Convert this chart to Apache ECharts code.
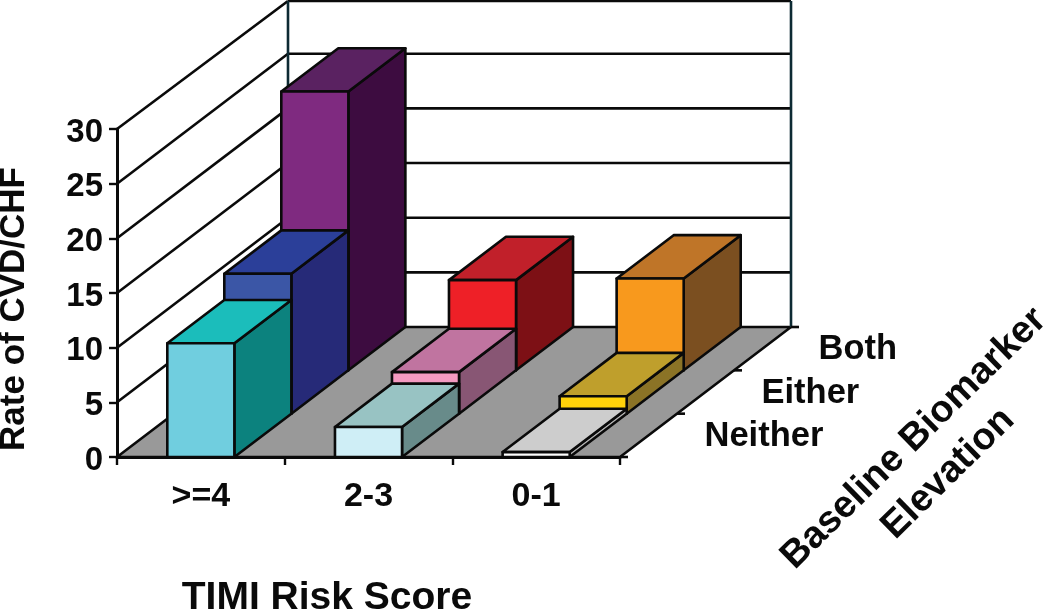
<!DOCTYPE html>
<html>
<head>
<meta charset="utf-8">
<style>html,body{margin:0;padding:0;background:#fff}#c{width:1050px;height:611px}</style>
<script src="https://cdn.jsdelivr.net/npm/echarts@6/dist/echarts.min.js"></script>
</head>
<body>
<div id="c"></div>
<script>
var riskCategories = ['>=4', '2-3', '0-1'];
var depthLabels = ['Neither', 'Either', 'Both'];
var yTicks = [0, 5, 10, 15, 20, 25, 30];
var neitherValues = [10.4, 2.75, 0.45];
var eitherValues = [12.8, 3.8, 1.6];
var bothValues = [25.5, 8.25, 8.4];

var neitherColors = [['#70cedf', '#1bbdbb', '#0c827e'], ['#cfeef6', '#98c3c3', '#688b8a'], ['#ffffff', '#cdcdcd', '#b4b4b4']];
var eitherColors = [['#3b56a6', '#2b3f99', '#262a78'], ['#f49ac1', '#c074a0', '#885674'], ['#ffd20a', '#bf9f2c', '#8b7326']];
var bothColors = [['#7f2a80', '#5a2261', '#3d0c40'], ['#ee2027', '#c1202a', '#7d1015'], ['#f8991d', '#bf7528', '#7b4f20']];

var DX = 57, DY = -43.33, BAR_RATIO = 0.4, INK = '#0a0a0a', LW = 2.6;
var FONT = '"Liberation Sans", Arial, sans-serif';

var rows = [neitherValues, eitherValues, bothValues];
var palette = [neitherColors, eitherColors, bothColors];
var barData = [];
for (var r = rows.length - 1; r >= 0; r--) {
  for (var c = 0; c < riskCategories.length; c++) {
    barData.push([c, rows[r][c], r]);
  }
}

function poly(points, fill) {
  return { type: 'polygon', shape: { points: points },
    style: { fill: fill, stroke: INK, lineWidth: LW, lineJoin: 'round' } };
}
function seg(a, b, color) {
  return { type: 'line', shape: { x1: a[0], y1: a[1], x2: b[0], y2: b[1] },
    style: { stroke: color || INK, lineWidth: LW, lineCap: 'butt' } };
}

function renderBar(params, api) {
  var c = api.value(0), v = api.value(1), r = api.value(2);
  var colors = palette[r][c];
  var base = api.coord([c, 0]);
  var top = api.coord([c, v]);
  var w = api.size([1, 0])[0] * BAR_RATIO;
  var l = base[0] - w / 2 + r * DX, rt = l + w;
  var b = base[1] + r * DY, t = top[1] + r * DY;
  return { type: 'group', children: [
    poly([[rt, b], [rt + DX, b + DY], [rt + DX, t + DY], [rt, t]], colors[2]),
    poly([[l, t], [rt, t], [rt + DX, t + DY], [l + DX, t + DY]], colors[1]),
    poly([[l, b], [rt, b], [rt, t], [l, t]], colors[0])
  ] };
}

function renderFrame(params, api) {
  var v = api.value(0);
  var left = api.coord([0, v]);
  var size = api.size([1, 0])[0];
  var x0 = left[0] - size / 2;
  var x1 = x0 + size * riskCategories.length;
  var y = left[1];
  var by = Math.max(1, y + 3 * DY);
  var back = x0 + 3 * DX, right = x1 + 3 * DX;
  var kids = [];
  if (v === 0) {
    kids.push(poly([[x0, y], [x1, y], [right, y + 3 * DY], [back, y + 3 * DY]], '#999999'));
    kids.push(seg([x1, y], [x1 + 8, y]));
  } else {
    kids.push(seg([x0, y], [back, by]));
    kids.push(seg([back, by], [right, by]));
  }
  if (v === 30) {
    var floorY = api.coord([0, 0])[1] + 3 * DY;
    kids.push(seg([back, by], [back, floorY], '#0d2a33'));
    kids.push(seg([right, by], [right, floorY], '#0d2a33'));
  }
  return { type: 'group', children: kids };
}

function renderDepth(params, api) {
  var i = api.value(0);
  var origin = api.coord([0, 0]);
  var size = api.size([1, 0])[0];
  var x1 = origin[0] - size / 2 + size * riskCategories.length;
  var y = origin[1];
  var tx = x1 + (i + 1) * DX, ty = y + (i + 1) * DY;
  return { type: 'group', children: [
    seg([tx, ty], [tx + 8, ty]),
    { type: 'text', style: {
        x: x1 + (i + 0.5) * DX + 56, y: y + (i + 0.5) * DY + 1,
        text: depthLabels[i], fill: '#0a0a0a', align: 'left', verticalAlign: 'middle',
        font: 'bold 34.5px ' + FONT } }
  ] };
}

var chart = echarts.init(document.getElementById('c'), null, { renderer: 'canvas' });
chart.setOption({
  backgroundColor: '#ffffff',
  animation: false,
  grid: { left: 117, right: 430, top: 129, bottom: 154, containLabel: false },
  xAxis: {
    type: 'category', data: riskCategories, boundaryGap: true,
    axisLine: { onZero: false, lineStyle: { color: INK, width: 3 } },
    axisTick: { show: true, length: 8, alignWithLabel: false, lineStyle: { color: INK, width: 2.4 } },
    axisLabel: { color: '#0a0a0a', fontFamily: FONT, fontWeight: 'bold', fontSize: 34, margin: 23 },
    z: 1
  },
  yAxis: {
    type: 'value', min: 0, max: 30, interval: 5, splitLine: { show: false },
    axisLine: { show: true, lineStyle: { color: INK, width: 3 } },
    axisTick: { show: true, length: 8, lineStyle: { color: INK, width: 2.4 } },
    axisLabel: { color: '#0a0a0a', fontFamily: FONT, fontWeight: 'bold', fontSize: 33, margin: 14, lineHeight: 7, verticalAlign: 'top' },
    z: 1
  },
  graphic: [
    { type: 'text', x: 14, y: 309, rotation: Math.PI / 2,
      style: { text: 'Rate of CVD/CHF', align: 'center', verticalAlign: 'middle', fill: '#0a0a0a',
        font: 'bold 35px ' + FONT } },
    { type: 'text', x: 327, y: 598,
      style: { text: 'TIMI Risk Score', align: 'center', verticalAlign: 'middle', fill: '#0a0a0a',
        font: 'bold 39px ' + FONT } },
    { type: 'text', x: 931, y: 456, rotation: 44.5 * Math.PI / 180,
      style: { text: 'Baseline Biomarker\nElevation', align: 'center', verticalAlign: 'middle', fill: '#0a0a0a',
        lineHeight: 49, font: 'bold 38px ' + FONT } }
  ],
  series: [
    { type: 'custom', name: 'frame', renderItem: renderFrame, silent: true, z: 0, clip: false,
      encode: { y: 0 }, data: yTicks.map(function (v) { return [v]; }) },
    { type: 'custom', name: 'depth', renderItem: renderDepth, silent: true, z: 2, clip: false,
      data: depthLabels.map(function (d, i) { return [i]; }) },
    { type: 'custom', name: 'bars', renderItem: renderBar, silent: true, z: 3, clip: false,
      encode: { x: 0, y: 1 }, data: barData }
  ]
});
</script>
</body>
</html>
